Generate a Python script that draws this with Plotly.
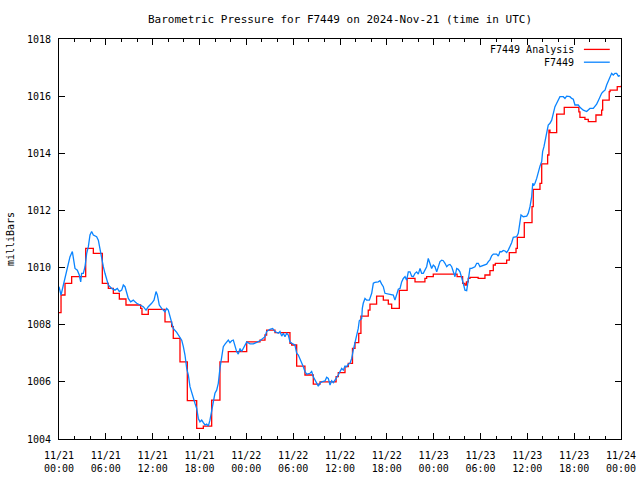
import pandas as pd
import plotly.graph_objects as go

START = "2024-11-21 00:00"
TITLE = "Barometric Pressure for F7449 on 2024-Nov-21 (time in UTC)"
Y_TITLE = "milliBars"
NAME_ANALYSIS = "F7449 Analysis"
NAME_STATION = "F7449"

# Analysis series (hours since start, mbar) - stepped
analysis_hours = [0.00, 0.26, 0.77, 1.62, 3.42, 4.40, 5.55, 6.32, 6.96, 7.73, 8.58, 10.46, 10.63,
                  11.44, 13.58, 14.43, 14.64, 15.50, 16.44, 17.64, 18.49, 19.56, 20.62, 21.69,
                  24.05, 25.75, 26.39, 26.60, 27.67, 29.59, 29.81, 30.45, 31.51, 32.58, 33.44,
                  35.50, 35.78, 36.64, 37.06, 37.60, 37.92, 38.40, 38.68, 39.62, 39.84, 40.69,
                  41.55, 42.19, 42.62, 43.60, 44.60, 45.61, 46.88, 47.10, 47.95, 51.00, 51.71,
                  52.00, 52.20, 52.43, 52.65, 53.70, 54.57, 55.21, 55.64, 55.90, 57.35, 57.69,
                  58.55, 58.72, 59.61, 60.60, 60.76, 61.62, 61.84, 62.60, 62.77, 62.90, 63.76,
                  64.73, 66.60, 66.74, 67.38, 67.81, 68.79, 69.52, 69.65, 70.49, 70.60, 71.52, 72.00]
analysis_mb = [1008.42, 1009.04, 1009.45, 1009.68, 1010.67, 1010.50, 1009.45, 1009.27, 1009.10,
               1008.90, 1008.69, 1008.57, 1008.36, 1008.54, 1008.10, 1007.93, 1007.52, 1006.70,
               1005.34, 1004.37, 1004.45, 1005.36, 1006.70, 1007.06, 1007.40, 1007.46, 1007.64,
               1007.81, 1007.72, 1007.35, 1007.29, 1006.55, 1006.24, 1005.92, 1006.00, 1006.18,
               1006.32, 1006.53, 1006.65, 1007.17, 1007.37, 1007.70, 1008.30, 1008.51, 1008.72,
               1009.00, 1008.86, 1008.72, 1008.57, 1009.20, 1009.62, 1009.50, 1009.62, 1009.68,
               1009.77, 1009.68, 1009.45, 1009.39, 1009.50, 1009.62, 1009.66, 1009.62, 1009.74,
               1009.89, 1010.09, 1010.15, 1010.26, 1010.52, 1010.67, 1011.06, 1011.57, 1012.13,
               1012.74, 1012.95, 1013.63, 1013.94, 1014.81, 1014.72, 1015.37, 1015.61, 1015.45,
               1015.26, 1015.19, 1015.11, 1015.34, 1015.51, 1015.86, 1016.16, 1016.21, 1016.33,
               1016.36]

# Station observations (hours since start, mbar)
station_hours = [0.00, 0.26, 0.56, 0.90, 1.20, 1.41, 1.71, 1.84, 2.05, 2.35, 2.60, 2.78, 2.90, 3.12,
                 3.33, 3.55, 3.76, 3.97, 4.18, 4.40, 4.82, 5.04, 5.25, 5.46, 5.68, 5.89, 6.11, 6.32,
                 6.75, 7.17, 7.47, 7.73, 8.03, 8.24, 8.46, 8.67, 8.88, 9.18, 9.52, 9.74, 9.95, 10.38,
                 10.80, 11.15, 11.44, 11.87, 12.17, 12.43, 12.60, 12.85, 13.15, 13.58, 13.79, 14.00,
                 14.22, 14.44, 14.64, 15.08, 15.50, 15.72, 15.93, 16.14, 16.36, 16.57, 16.78, 17.00,
                 17.20, 17.42, 17.64, 17.85, 18.06, 18.28, 18.49, 18.70, 18.92, 19.13, 19.34, 19.56,
                 19.77, 19.98, 20.20, 20.41, 20.62, 20.84, 21.05, 21.27, 21.48, 21.69, 21.90, 22.12,
                 22.33, 22.55, 22.76, 22.97, 23.19, 23.40, 23.61, 23.83, 24.05, 24.47, 24.89, 25.33,
                 25.75, 26.39, 26.60, 27.03, 27.37, 27.67, 28.10, 28.31, 28.53, 28.74, 28.95, 29.17,
                 29.38, 29.59, 29.81, 30.23, 30.45, 30.66, 30.87, 31.09, 31.30, 31.51, 31.73, 32.16,
                 32.37, 32.58, 32.80, 33.01, 33.22, 33.44, 33.65, 34.08, 34.29, 34.50, 34.72, 34.93,
                 35.14, 35.36, 35.57, 35.78, 36.00, 36.22, 36.42, 36.64, 36.85, 37.06, 37.28, 37.50,
                 37.70, 37.92, 38.14, 38.34, 38.47, 38.78, 38.86, 38.98, 39.20, 39.42, 39.76, 40.06,
                 40.27, 40.48, 40.90, 41.12, 41.34, 41.55, 41.76, 42.40, 42.83, 43.04, 43.26, 43.47,
                 43.69, 43.90, 44.11, 44.33, 44.54, 44.75, 44.97, 45.18, 45.39, 45.61, 45.82, 46.03,
                 46.25, 46.46, 46.67, 46.89, 47.10, 47.31, 47.53, 47.74, 47.95, 48.17, 48.39, 48.59,
                 48.81, 49.03, 49.23, 49.45, 49.67, 49.87, 50.09, 50.31, 50.51, 50.73, 50.95, 51.15,
                 51.37, 51.59, 51.79, 52.01, 52.23, 52.43, 52.65, 52.87, 53.07, 53.29, 53.51, 53.72,
                 53.93, 54.15, 54.36, 54.57, 54.79, 55.00, 55.21, 55.43, 55.64, 55.85, 56.07, 56.28,
                 56.50, 56.71, 56.92, 57.14, 57.35, 57.56, 57.78, 57.99, 58.20, 58.63, 58.84, 59.06,
                 59.19, 59.48, 59.92, 60.12, 60.34, 60.56, 60.69, 60.85, 60.98, 61.20, 61.41, 61.62,
                 61.84, 61.96, 62.13, 62.30, 62.48, 62.68, 62.90, 63.12, 63.33, 63.54, 63.76, 63.97,
                 64.18, 64.61, 64.82, 65.04, 65.46, 65.68, 65.89, 66.10, 66.53, 66.74, 67.17, 67.60,
                 68.02, 68.45, 68.88, 69.09, 69.31, 69.52, 69.73, 69.95, 70.16, 70.37, 70.59, 70.80,
                 71.01, 71.23, 71.44, 71.66, 71.88]
station_mb = [1009.33, 1009.04, 1009.39, 1009.80, 1010.15, 1010.38, 1010.56, 1010.26, 1009.97,
              1009.91, 1009.74, 1009.50, 1009.80, 1009.80, 1010.03, 1010.50, 1010.73, 1011.14,
              1011.26, 1011.14, 1011.08, 1010.96, 1010.61, 1010.32, 1010.03, 1009.80, 1009.56,
              1009.39, 1009.27, 1009.21, 1009.27, 1009.16, 1009.21, 1009.39, 1009.33, 1009.10,
              1008.92, 1008.80, 1008.86, 1008.80, 1008.75, 1008.69, 1008.63, 1008.51, 1008.63,
              1008.75, 1008.86, 1009.16, 1009.04, 1008.69, 1008.57, 1008.45, 1008.57, 1008.51,
              1008.28, 1007.99, 1007.87, 1007.73, 1007.55, 1007.46, 1007.23, 1006.94, 1006.47,
              1006.24, 1005.83, 1005.60, 1005.42, 1005.25, 1005.07, 1004.72, 1004.60, 1004.66,
              1004.57, 1004.49, 1004.52, 1004.45, 1004.66, 1004.96, 1005.19, 1005.60, 1005.71,
              1005.95, 1006.47, 1006.82, 1007.23, 1007.32, 1007.40, 1007.46, 1007.37, 1007.44,
              1007.46, 1007.23, 1007.06, 1006.97, 1007.17, 1007.06, 1007.17, 1007.29, 1007.40,
              1007.33, 1007.33, 1007.38, 1007.44, 1007.58, 1007.76, 1007.84, 1007.87, 1007.76,
              1007.70, 1007.76, 1007.60, 1007.70, 1007.58, 1007.70, 1007.64, 1007.40, 1007.35,
              1007.29, 1007.00, 1006.94, 1006.82, 1006.65, 1006.53, 1006.36, 1006.27, 1006.30,
              1006.36, 1006.18, 1006.06, 1005.95, 1005.85, 1005.95, 1006.00, 1006.03, 1006.16,
              1006.12, 1005.89, 1006.04, 1005.97, 1006.06, 1006.18, 1006.24, 1006.36, 1006.47,
              1006.41, 1006.55, 1006.53, 1006.62, 1006.65, 1006.82, 1007.11, 1007.35, 1007.58,
              1007.87, 1008.14, 1008.22, 1008.57, 1008.75, 1008.92, 1008.86, 1008.86, 1009.10,
              1009.45, 1009.48, 1009.50, 1009.54, 1009.42, 1009.33, 1009.10, 1009.07, 1009.04,
              1008.86, 1009.04, 1009.24, 1009.27, 1009.50, 1009.62, 1009.68, 1009.56, 1009.85,
              1009.85, 1009.70, 1009.68, 1009.80, 1009.85, 1009.77, 1009.97, 1009.80, 1009.80,
              1009.91, 1010.03, 1010.32, 1010.15, 1009.97, 1010.09, 1010.03, 1009.85, 1010.05,
              1010.21, 1010.26, 1010.24, 1010.15, 1010.03, 1010.09, 1010.11, 1010.03, 1009.85,
              1009.68, 1009.97, 1009.94, 1009.85, 1009.68, 1009.45, 1009.21, 1009.19, 1009.56,
              1009.97, 1009.97, 1010.00, 1010.03, 1010.15, 1010.15, 1010.03, 1010.05, 1010.09,
              1010.09, 1010.12, 1010.21, 1010.27, 1010.41, 1010.47, 1010.47, 1010.47, 1010.40,
              1010.56, 1010.55, 1010.60, 1010.58, 1010.53, 1010.61, 1010.73, 1010.87, 1011.06,
              1011.08, 1011.20, 1011.55, 1011.84, 1011.78, 1011.80, 1011.90, 1012.13, 1012.48,
              1012.95, 1012.89, 1012.95, 1013.12, 1013.36, 1013.55, 1013.71, 1014.06, 1014.23,
              1014.46, 1014.64, 1014.99, 1015.05, 1015.16, 1015.40, 1015.63, 1015.75, 1015.89,
              1015.98, 1015.98, 1015.92, 1016.00, 1015.98, 1015.92, 1015.89, 1015.69, 1015.69,
              1015.61, 1015.51, 1015.46, 1015.57, 1015.57, 1015.72, 1015.84, 1015.98, 1016.10,
              1016.16, 1016.21, 1016.39, 1016.54, 1016.68, 1016.80, 1016.74, 1016.80, 1016.80,
              1016.70, 1016.72]

Y_RANGE = [1004, 1018]
X_END_HOURS = 72

base = pd.Timestamp(START)
ta = base + pd.to_timedelta(analysis_hours, unit="h")
ts = base + pd.to_timedelta(station_hours, unit="h")

RED = "#ff0000"
BLUE = "#0a84ff"
FONT = "DejaVu Sans Mono"

fig = go.Figure()
fig.add_trace(go.Scatter(x=ta, y=analysis_mb, mode="lines", name=NAME_ANALYSIS,
                         line=dict(color=RED, width=1.3, shape="hv")))
fig.add_trace(go.Scatter(x=ts, y=station_mb, mode="lines", name=NAME_STATION,
                         line=dict(color=BLUE, width=1.3)))

axis_common = dict(showline=True, linecolor="black", linewidth=1, mirror="ticks",
                   ticks="inside", ticklen=6, tickcolor="black", tickwidth=1,
                   showgrid=False, zeroline=False, automargin=False,
                   tickfont=dict(family=FONT, size=10, color="black"))

fig.update_xaxes(type="date", range=[base, base + pd.Timedelta(hours=X_END_HOURS)],
                 dtick=6 * 3600 * 1000, tick0=base, tickformat="%m/%d<br>%H:%M",
                 minor=dict(dtick=2 * 3600 * 1000, ticks="inside", ticklen=3,
                            tickcolor="black", showgrid=False),
                 ticklabelstandoff=7, **axis_common)
fig.update_yaxes(range=Y_RANGE, dtick=2, tick0=1004,
                 ticklabelstandoff=5, **axis_common)

# y-axis title
fig.add_annotation(xref="paper", yref="paper", x=-0.087, y=0.5, text=Y_TITLE, showarrow=False,
                   textangle=-90, xanchor="center", yanchor="middle",
                   font=dict(family=FONT, size=10, color="black"))

# legend (text right-aligned, sample line to its right, as in the source)
legend_rows = [(NAME_ANALYSIS, RED, 0.974), (NAME_STATION, BLUE, 0.942)]
for name, color, yp in legend_rows:
    fig.add_annotation(xref="paper", yref="paper", x=0.92, y=yp, text=name, showarrow=False,
                       xanchor="right", yanchor="middle",
                       font=dict(family=FONT, size=10, color="black"))
    fig.add_shape(type="line", xref="paper", yref="paper", x0=0.934, x1=0.980, y0=yp, y1=yp,
                  line=dict(color=color, width=1.3))

fig.update_layout(
    width=640, height=480,
    margin=dict(l=59, r=19, t=39, b=41, pad=0, autoexpand=False),
    paper_bgcolor="white", plot_bgcolor="white",
    showlegend=False,
    title=dict(text=TITLE, x=0.5, xref="paper", xanchor="center", y=1 - 19 / 480,
               yref="container", yanchor="middle", automargin=False,
               font=dict(family=FONT, size=11, color="black")),
)

fig.write_html("out.html", config={"displayModeBar": False},
               post_script="document.body.style.margin='0';document.body.style.padding='0';")
